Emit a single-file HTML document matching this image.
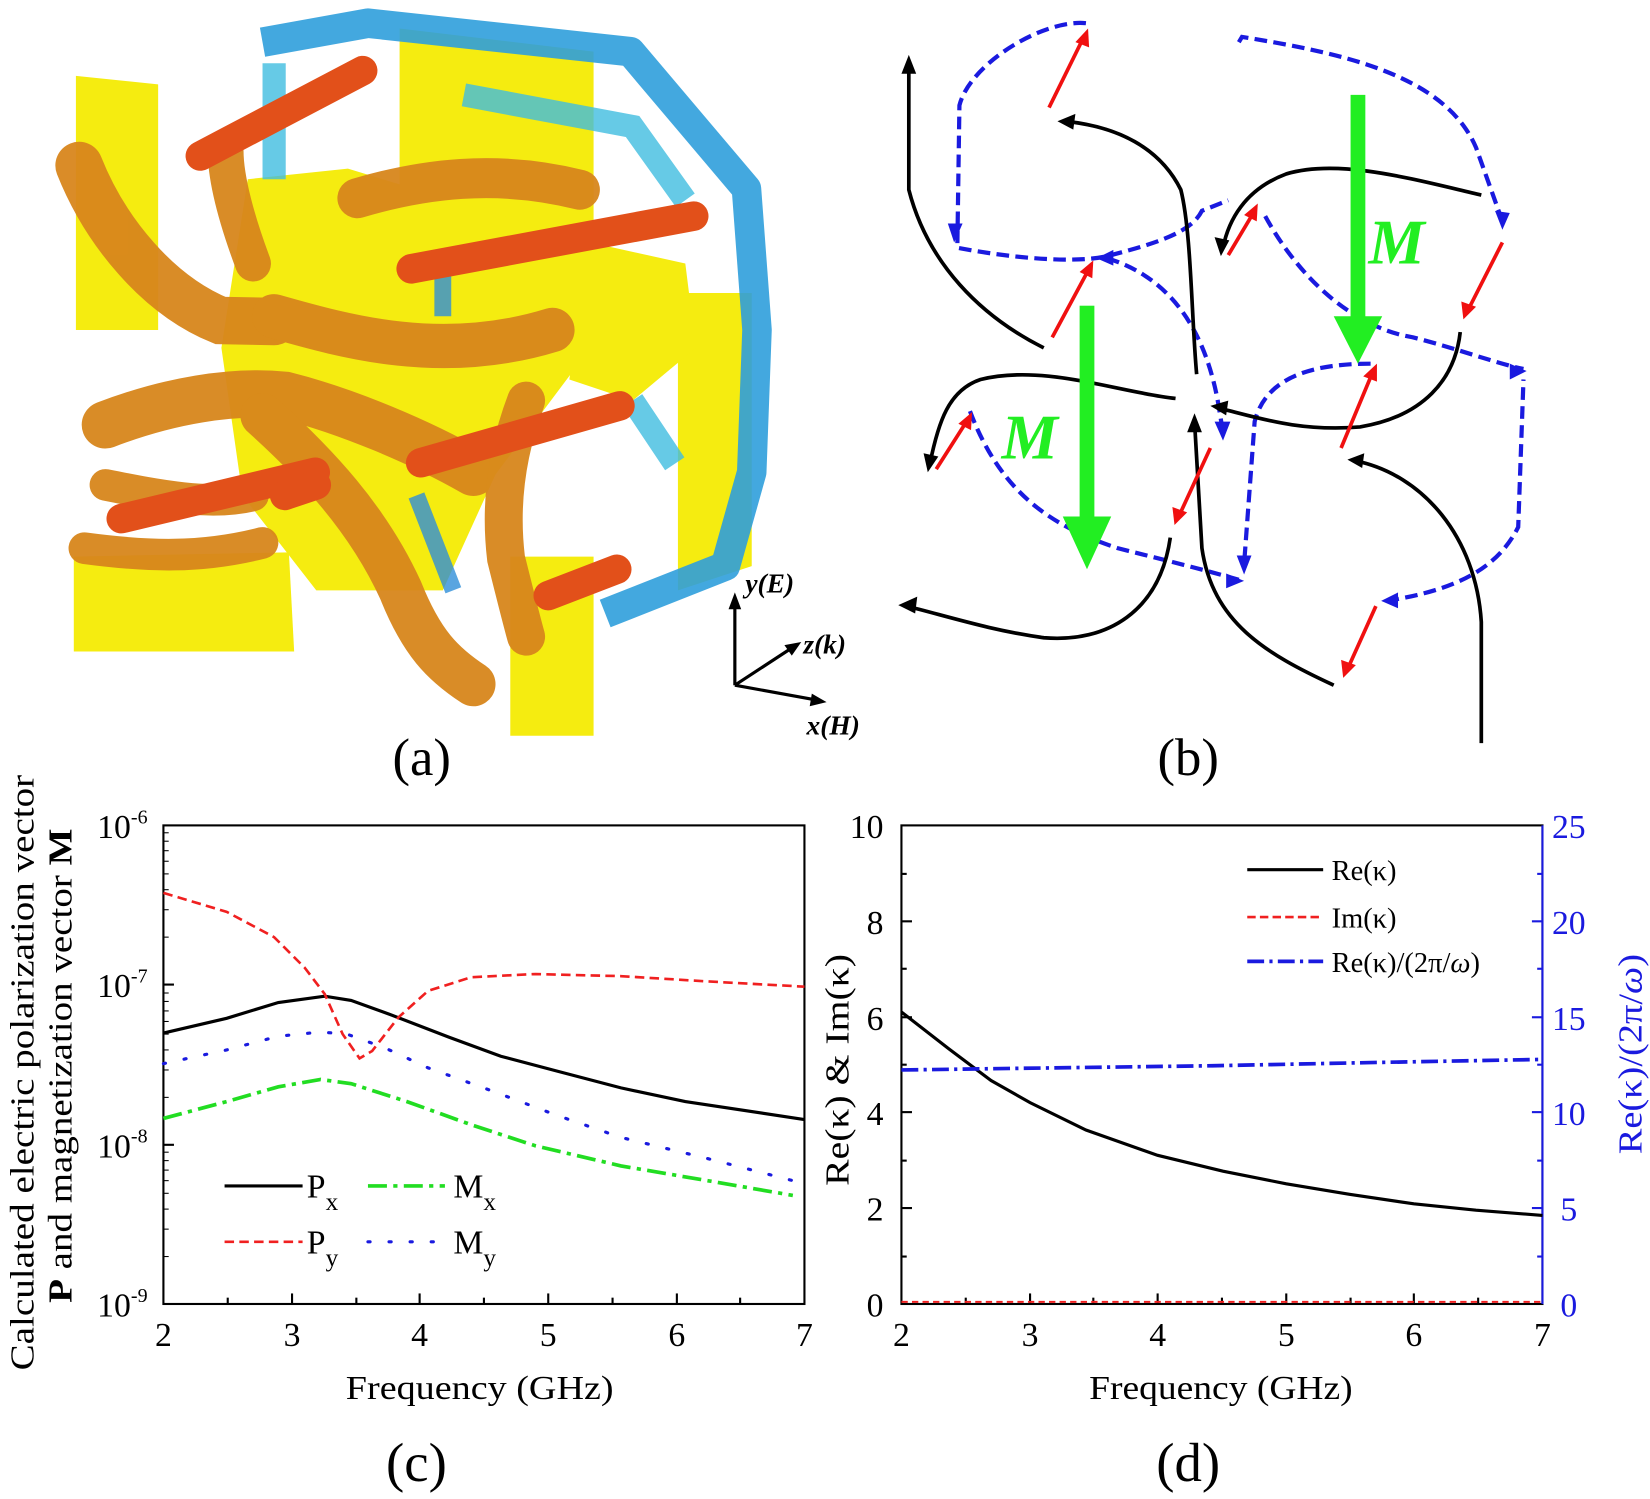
<!DOCTYPE html>
<html><head><meta charset="utf-8"><style>
html,body{margin:0;padding:0;background:#fff;}
svg{display:block;}
text{font-family:"Liberation Serif",serif;}
</style></head><body>
<svg width="1650" height="1499" viewBox="0 0 1565 1422" preserveAspectRatio="none" xmlns="http://www.w3.org/2000/svg">
<rect width="1565" height="1422" fill="#fff"/>
<!-- Panel (a) -->
<g>
  <polygon points="379,27 563,49 563,224 379,224" fill="#f5ec10"/>
  <polygon points="643,278 713,278 713,537 643,560" fill="#f5ec10"/>
  <polygon points="72,72 150,80 150,313 72,313" fill="#f5ec10"/>
  <polygon points="70,528 274,524 279,618 70,618" fill="#f5ec10"/>
  <polygon points="484,528 563,528 563,698 484,698" fill="#f5ec10"/>
  <polygon points="235,170 330,160 560,230 560,330 470,450 420,560 300,560 230,470 210,330" fill="#f5ec10"/>
  <polygon points="560,230 650,250 660,330 600,380 540,360" fill="#f5ec10"/>
  <path d="M249,40 L349,22 L598,49 L708,179 L718,313 L713,448 L688,537 L574,582" fill="none" stroke="#2f9edc" stroke-width="28" stroke-linejoin="round" opacity="0.9"/>
  <path d="M260,60 L260,170 M440,90 L600,120 L650,190 M600,380 L640,440" fill="none" stroke="#40bde0" stroke-width="22" opacity="0.8"/>
  <path d="M420,240 L420,300 M395,470 L430,560" fill="none" stroke="#2f8ed8" stroke-width="16" opacity="0.8"/>
  <g fill="none" stroke="#d8861c" stroke-linecap="round" opacity="0.95">
    <path d="M75,157 C100,220 150,280 209,304 L260,305" stroke-width="45"/>
    <path d="M260,300 C330,320 420,345 524,313" stroke-width="42"/>
    <path d="M339,188 C400,170 470,160 550,180" stroke-width="38"/>
    <path d="M100,403 C160,380 220,370 270,375 C330,390 400,420 449,448" stroke-width="45"/>
    <path d="M80,520 C140,528 190,530 249,515" stroke-width="30"/>
    <path d="M249,394 C300,440 349,492 380,560 C400,610 420,630 449,649" stroke-width="42"/>
    <path d="M499,380 C480,430 474,480 480,530 C490,570 495,590 499,604" stroke-width="36"/>
    <path d="M240,250 C225,210 214,170 214,143" stroke-width="34"/>
    <path d="M100,460 C150,470 200,480 240,470" stroke-width="30"/>
  </g>
  <g stroke="#e2501a" stroke-width="28" stroke-linecap="round">
    <line x1="190" y1="148" x2="344" y2="67"/>
    <line x1="390" y1="255" x2="658" y2="205"/>
    <line x1="115" y1="492" x2="299" y2="448"/>
    <line x1="399" y1="439" x2="588" y2="385"/>
    <line x1="520" y1="565" x2="585" y2="540"/>
    <line x1="270" y1="470" x2="300" y2="460"/>
  </g>
  <!-- axis triad -->
  <g stroke="#000" stroke-width="3" fill="#000">
    <line x1="697" y1="650" x2="697" y2="572"/><polygon points="697,562 691,578 703,578" stroke="none"/>
    <line x1="697" y1="650" x2="752" y2="614"/><polygon points="760,609 744,612 751,622" stroke="none"/>
    <line x1="697" y1="650" x2="774" y2="664"/><polygon points="784,666 770,658 768,670" stroke="none"/>
  </g>
  <text x="707" y="562" font-size="26" font-style="italic" font-weight="bold">y(E)</text>
  <text x="762" y="620" font-size="26" font-style="italic" font-weight="bold">z(k)</text>
  <text x="765" y="697" font-size="26" font-style="italic" font-weight="bold">x(H)</text>
</g>
<!-- Panel (b) -->
<g fill="none">
  <g stroke="#1a1adf" stroke-width="4" stroke-dasharray="12,6">
    <path d="M1030,22 C990,18 920,60 910,100 L908,235 C960,245 1020,250 1050,243 C1100,230 1130,220 1140,200 L1165,190"/>
    <path d="M1175,40 L1178,35 C1270,50 1370,70 1400,140 L1425,210"/>
    <path d="M1200,205 C1230,260 1280,310 1340,320 C1380,330 1420,345 1445,350"/>
    <path d="M1300,345 C1240,345 1200,360 1190,400 L1180,535"/>
    <path d="M1050,245 C1100,260 1140,300 1155,380 L1160,410"/>
    <path d="M920,390 C950,470 1000,500 1060,520 C1100,530 1140,540 1175,550"/>
    <path d="M1315,570 C1380,560 1420,540 1440,500 L1445,360"/>
  </g>
  <g stroke="#000" stroke-width="3.5">
    <path d="M990,330 C930,300 880,250 862,180 L862,60"/>
    <path d="M1135,355 C1130,300 1130,220 1120,180 C1100,140 1060,120 1010,115"/>
    <path d="M1405,185 C1340,170 1270,150 1220,165 C1180,180 1165,210 1160,235"/>
    <path d="M1115,378 C1060,372 990,345 930,360 C900,370 890,400 882,440"/>
    <path d="M1155,387 C1190,395 1230,410 1290,405 C1350,395 1380,360 1385,315"/>
    <path d="M1265,650 C1200,620 1150,590 1140,520 L1133,400"/>
    <path d="M1405,705 L1405,590 C1400,510 1350,450 1285,437"/>
    <path d="M1110,510 C1100,580 1050,610 990,605 C940,598 900,585 860,575"/>
  </g>
  <g fill="#000">
    <polygon points="862,52 855,70 869,70"/><polygon points="1003,115 1020,108 1018,123"/>
    <polygon points="1158,243 1152,225 1166,228"/><polygon points="880,448 876,430 890,433"/>
    <polygon points="1148,385 1165,380 1163,394"/><polygon points="1133,392 1126,410 1140,410"/>
    <polygon points="1278,436 1294,430 1292,444"/><polygon points="852,574 870,566 868,582"/>
  </g>
  <g fill="#1a1adf">
    <polygon points="905,230 899,212 913,212"/><polygon points="1040,245 1056,237 1056,252"/>
    <polygon points="1425,218 1418,200 1432,202"/><polygon points="1448,352 1432,345 1432,360"/>
    <polygon points="1180,545 1173,527 1187,527"/><polygon points="1180,551 1163,544 1163,558"/>
    <polygon points="1310,570 1326,562 1326,577"/><polygon points="1160,418 1152,400 1167,400"/>
  </g>
  <g stroke="#f01010" stroke-width="3.5">
    <line x1="995" y1="102" x2="1028" y2="35"/><line x1="1165" y1="242" x2="1190" y2="200"/>
    <line x1="998" y1="320" x2="1033" y2="255"/><line x1="1425" y1="230" x2="1392" y2="295"/>
    <line x1="888" y1="445" x2="918" y2="398"/><line x1="1272" y1="425" x2="1302" y2="353"/>
    <line x1="1148" y1="425" x2="1118" y2="490"/><line x1="1305" y1="575" x2="1278" y2="635"/>
  </g>
  <g fill="#f01010">
    <polygon points="1032,27 1020,40 1033,45"/><polygon points="1193,193 1180,204 1192,210"/>
    <polygon points="1037,247 1024,258 1036,264"/><polygon points="1388,303 1386,286 1400,291"/>
    <polygon points="922,391 909,402 921,408"/><polygon points="1306,345 1293,357 1306,362"/>
    <polygon points="1114,498 1112,481 1126,486"/><polygon points="1274,643 1272,626 1286,631"/>
  </g>
  <g fill="#22ee22" stroke="none">
    <rect x="1281" y="90" width="14" height="220"/><polygon points="1265,300 1311,300 1288,345"/>
    <rect x="1024" y="290" width="14" height="210"/><polygon points="1008,490 1054,490 1031,540"/>
  </g>
  <text x="1298" y="250" font-size="60" font-style="italic" font-weight="bold" fill="#22ee22">M</text>
  <text x="950" y="435" font-size="60" font-style="italic" font-weight="bold" fill="#22ee22">M</text>
</g>
<text x="400" y="735" font-size="50" text-anchor="middle">(a)</text>
<text x="1127" y="735" font-size="50" text-anchor="middle">(b)</text>
<!-- Panel (c) -->
<g>
  <rect x="155" y="783" width="608" height="454" fill="none" stroke="#000" stroke-width="2"/>
  <g stroke="#000" stroke-width="2">
    <line x1="155" y1="934" x2="165" y2="934"/><line x1="155" y1="1086" x2="165" y2="1086"/>
    <line x1="216" y1="1237" x2="216" y2="1231"/><line x1="277" y1="1237" x2="277" y2="1227"/><line x1="338" y1="1237" x2="338" y2="1231"/><line x1="398" y1="1237" x2="398" y2="1227"/><line x1="459" y1="1237" x2="459" y2="1231"/><line x1="520" y1="1237" x2="520" y2="1227"/><line x1="581" y1="1237" x2="581" y2="1231"/><line x1="642" y1="1237" x2="642" y2="1227"/><line x1="702" y1="1237" x2="702" y2="1231"/>
  </g>
  <g stroke="#000" stroke-width="1">
    <line x1="155" y1="889" x2="160" y2="889"/><line x1="155" y1="863" x2="160" y2="863"/><line x1="155" y1="844" x2="160" y2="844"/><line x1="155" y1="829" x2="160" y2="829"/><line x1="155" y1="817" x2="160" y2="817"/><line x1="155" y1="807" x2="160" y2="807"/><line x1="155" y1="798" x2="160" y2="798"/><line x1="155" y1="790" x2="160" y2="790"/>
    <line x1="155" y1="1041" x2="160" y2="1041"/><line x1="155" y1="1015" x2="160" y2="1015"/><line x1="155" y1="996" x2="160" y2="996"/><line x1="155" y1="981" x2="160" y2="981"/><line x1="155" y1="969" x2="160" y2="969"/><line x1="155" y1="959" x2="160" y2="959"/><line x1="155" y1="950" x2="160" y2="950"/><line x1="155" y1="942" x2="160" y2="942"/>
    <line x1="155" y1="1192" x2="160" y2="1192"/><line x1="155" y1="1166" x2="160" y2="1166"/><line x1="155" y1="1147" x2="160" y2="1147"/><line x1="155" y1="1132" x2="160" y2="1132"/><line x1="155" y1="1120" x2="160" y2="1120"/><line x1="155" y1="1110" x2="160" y2="1110"/><line x1="155" y1="1101" x2="160" y2="1101"/><line x1="155" y1="1093" x2="160" y2="1093"/>
  </g>
  <g font-size="32" text-anchor="end">
    <text x="140" y="795">10<tspan font-size="19" dy="-14">-6</tspan></text>
    <text x="140" y="946">10<tspan font-size="19" dy="-14">-7</tspan></text>
    <text x="140" y="1098">10<tspan font-size="19" dy="-14">-8</tspan></text>
    <text x="140" y="1249">10<tspan font-size="19" dy="-14">-9</tspan></text>
  </g>
  <g font-size="32" text-anchor="middle">
    <text x="155" y="1277">2</text><text x="277" y="1277">3</text><text x="398" y="1277">4</text><text x="520" y="1277">5</text><text x="642" y="1277">6</text><text x="763" y="1277">7</text>
  </g>
  <text x="328" y="1327" font-size="32" textLength="254" lengthAdjust="spacingAndGlyphs">Frequency (GHz)</text>
  <text transform="translate(32,1300) rotate(-90)" font-size="32" textLength="565" lengthAdjust="spacingAndGlyphs">Calculated  electric polarization vector</text>
  <text transform="translate(68,1236) rotate(-90)" font-size="32" textLength="450" lengthAdjust="spacingAndGlyphs"><tspan font-weight="bold">P</tspan> and magnetization vector <tspan font-weight="bold">M</tspan></text>
  <polyline fill="none" stroke="#000" stroke-width="3" points="155,980 215,966 264,951 308,945 333,949 369,962 426,984 475,1002 528,1016 589,1032 650,1045 763,1062"/>
  <polyline fill="none" stroke="#f02020" stroke-width="2.5" stroke-dasharray="9,5" points="155,847 215,865 260,889 289,918 308,943 325,981 341,1004 353,997 378,965 406,940 447,927 508,924 589,926 671,931 763,936"/>
  <polyline fill="none" stroke="#1a1adf" stroke-width="3" stroke-dasharray="2,18" stroke-linecap="round" points="155,1009 215,996 264,983 304,979 329,981 365,994 406,1013 467,1035 528,1058 589,1079 671,1099 752,1120"/>
  <polyline fill="none" stroke="#22dd22" stroke-width="3.5" stroke-dasharray="18,6,4,6" points="155,1061 215,1045 264,1031 304,1024 333,1028 386,1045 447,1067 508,1087 589,1106 671,1120 752,1134"/>
  <line x1="213" y1="1125" x2="287" y2="1125" stroke="#000" stroke-width="3"/>
  <line x1="349" y1="1125" x2="422" y2="1125" stroke="#22dd22" stroke-width="3.5" stroke-dasharray="18,6,4,6"/>
  <line x1="213" y1="1178" x2="287" y2="1178" stroke="#f02020" stroke-width="2.5" stroke-dasharray="9,5"/>
  <line x1="349" y1="1178" x2="422" y2="1178" stroke="#1a1adf" stroke-width="3" stroke-dasharray="2,18" stroke-linecap="round"/>
  <g font-size="32">
    <text x="291" y="1136">P<tspan font-size="24" dy="12">x</tspan></text>
    <text x="430" y="1136">M<tspan font-size="24" dy="12">x</tspan></text>
    <text x="291" y="1189">P<tspan font-size="24" dy="12">y</tspan></text>
    <text x="430" y="1189">M<tspan font-size="24" dy="12">y</tspan></text>
  </g>
</g>
<text x="395" y="1405" font-size="52" text-anchor="middle">(c)</text>
<!-- Panel (d) -->
<g>
  <rect x="855" y="783" width="608" height="454" fill="none" stroke="#000" stroke-width="2"/>
  <line x1="1463" y1="783" x2="1463" y2="1237" stroke="#1a1adf" stroke-width="2"/>
  <g stroke="#000" stroke-width="2">
    <line x1="855" y1="874" x2="865" y2="874"/><line x1="855" y1="965" x2="865" y2="965"/><line x1="855" y1="1055" x2="865" y2="1055"/><line x1="855" y1="1146" x2="865" y2="1146"/>
    <line x1="855" y1="829" x2="860" y2="829"/><line x1="855" y1="919" x2="860" y2="919"/><line x1="855" y1="1010" x2="860" y2="1010"/><line x1="855" y1="1101" x2="860" y2="1101"/><line x1="855" y1="1192" x2="860" y2="1192"/>
    <line x1="916" y1="1237" x2="916" y2="1231"/><line x1="977" y1="1237" x2="977" y2="1227"/><line x1="1037" y1="1237" x2="1037" y2="1231"/><line x1="1098" y1="1237" x2="1098" y2="1227"/><line x1="1159" y1="1237" x2="1159" y2="1231"/><line x1="1220" y1="1237" x2="1220" y2="1227"/><line x1="1281" y1="1237" x2="1281" y2="1231"/><line x1="1341" y1="1237" x2="1341" y2="1227"/><line x1="1402" y1="1237" x2="1402" y2="1231"/>
  </g>
  <g stroke="#1a1adf" stroke-width="2">
    <line x1="1463" y1="874" x2="1453" y2="874"/><line x1="1463" y1="965" x2="1453" y2="965"/><line x1="1463" y1="1055" x2="1453" y2="1055"/><line x1="1463" y1="1146" x2="1453" y2="1146"/>
    <line x1="1463" y1="829" x2="1458" y2="829"/><line x1="1463" y1="919" x2="1458" y2="919"/><line x1="1463" y1="1010" x2="1458" y2="1010"/><line x1="1463" y1="1101" x2="1458" y2="1101"/><line x1="1463" y1="1192" x2="1458" y2="1192"/>
  </g>
  <g font-size="32" text-anchor="end">
    <text x="838" y="795">10</text><text x="838" y="886">8</text><text x="838" y="977">6</text><text x="838" y="1067">4</text><text x="838" y="1158">2</text><text x="838" y="1249">0</text>
  </g>
  <g font-size="32" fill="#1a1adf">
    <text x="1472" y="795">25</text><text x="1472" y="886">20</text><text x="1472" y="977">15</text><text x="1472" y="1067">10</text><text x="1480" y="1158">5</text><text x="1480" y="1249">0</text>
  </g>
  <g font-size="32" text-anchor="middle">
    <text x="855" y="1277">2</text><text x="977" y="1277">3</text><text x="1098" y="1277">4</text><text x="1220" y="1277">5</text><text x="1341" y="1277">6</text><text x="1463" y="1277">7</text>
  </g>
  <text x="1033" y="1327" font-size="32" textLength="250" lengthAdjust="spacingAndGlyphs">Frequency (GHz)</text>
  <text transform="translate(805,1125) rotate(-90)" font-size="32" textLength="220" lengthAdjust="spacingAndGlyphs">Re(κ) &amp; Im(κ)</text>
  <text transform="translate(1557,1095) rotate(-90)" font-size="32" fill="#1a1adf" textLength="190" lengthAdjust="spacingAndGlyphs">Re(κ)/(2π/<tspan font-style="italic">ω</tspan>)</text>
  <polyline fill="none" stroke="#000" stroke-width="3" points="855,960 900,995 940,1025 977,1046 1030,1072 1098,1096 1160,1111 1220,1123 1280,1133 1341,1142 1400,1148 1463,1153"/>
  <line x1="855" y1="1235" x2="1463" y2="1235" stroke="#f02020" stroke-width="2" stroke-dasharray="6,4"/>
  <polyline fill="none" stroke="#1a1adf" stroke-width="3.5" stroke-dasharray="16,5,3,5" points="855,1015 1000,1013 1150,1011 1300,1008 1463,1005"/>
  <line x1="1183" y1="825" x2="1255" y2="825" stroke="#000" stroke-width="3"/>
  <line x1="1183" y1="870" x2="1255" y2="870" stroke="#f02020" stroke-width="2.5" stroke-dasharray="8,4"/>
  <line x1="1183" y1="912" x2="1255" y2="912" stroke="#1a1adf" stroke-width="3.5" stroke-dasharray="16,5,3,5"/>
  <g font-size="27">
    <text x="1263" y="835">Re(κ)</text>
    <text x="1263" y="880">Im(κ)</text>
    <text x="1263" y="922">Re(κ)/(2π/<tspan font-style="italic">ω</tspan>)</text>
  </g>
</g>
<text x="1127" y="1405" font-size="52" text-anchor="middle">(d)</text>
</svg>
</body></html>
